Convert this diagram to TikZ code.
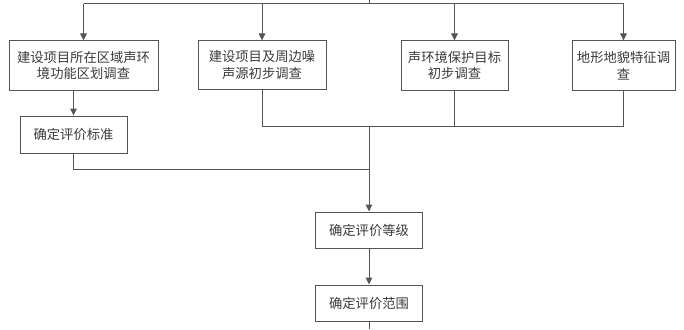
\documentclass[tikz,border=0pt]{standalone}
\usepackage{fontspec}
\setmainfont{Noto Sans CJK SC}
\usetikzlibrary{arrows.meta}
\definecolor{linec}{HTML}{555555}
\definecolor{textc}{HTML}{3A3A3A}
\begin{document}
\begin{tikzpicture}[x=1pt,y=-1pt,
  box/.style={draw=linec,line width=1pt,rectangle,inner sep=0pt,align=center,
    text=textc,font=\fontsize{13.3}{16.5}\selectfont},
  conn/.style={draw=linec,line width=1pt},
  arr/.style={conn,-{Triangle[length=7pt,width=6.5pt]}}]
\useasboundingbox (0,0) rectangle (684,329);
\node[box,minimum width=149pt,minimum height=49pt] (b1) at (83.5,65.5) {建设项目所在区域声环\\境功能区划调查};
\node[box,minimum width=128pt,minimum height=48pt] (b2) at (262,65) {建设项目及周边噪\\声源初步调查};
\node[box,minimum width=107pt,minimum height=49pt] (b3) at (454.5,65.5) {声环境保护目标\\初步调查};
\node[box,minimum width=103pt,minimum height=49pt] (b4) at (623.5,65.5) {地形地貌特征调\\查};
\node[box,minimum width=107pt,minimum height=37pt] (b5) at (73.5,134.5) {确定评价标准};
\node[box,minimum width=107pt,minimum height=36pt] (b6) at (369,230) {确定评价等级};
\node[box,minimum width=107pt,minimum height=36pt] (b7) at (369,303) {确定评价范围};
\coordinate (in) at (369,0);
\coordinate (bus) at (369,4);
\coordinate (j1) at (369,126);
\coordinate (j2) at (369,169);
\coordinate (out) at (369,329);
\draw[conn] (in) -- (bus);
\draw[conn] (b1.north |- bus) -- (b4.north |- bus);
\foreach \b in {b1,b2,b3,b4} \draw[arr] (\b.north |- bus) -- (\b.north);
\draw[arr] (b5.north |- b1.south) -- (b5.north);
\draw[conn] (b5.south) |- (j2);
\draw[conn] (b2.south) |- (b4.south |- j1) -- (b4.south);
\draw[conn] (b3.south) -- (b3.south |- j1);
\draw[arr] (j1) -- (b6.north);
\draw[arr] (b6.south) -- (b7.north);
\draw[conn] (b7.south) -- (out);
\end{tikzpicture}
\end{document}
